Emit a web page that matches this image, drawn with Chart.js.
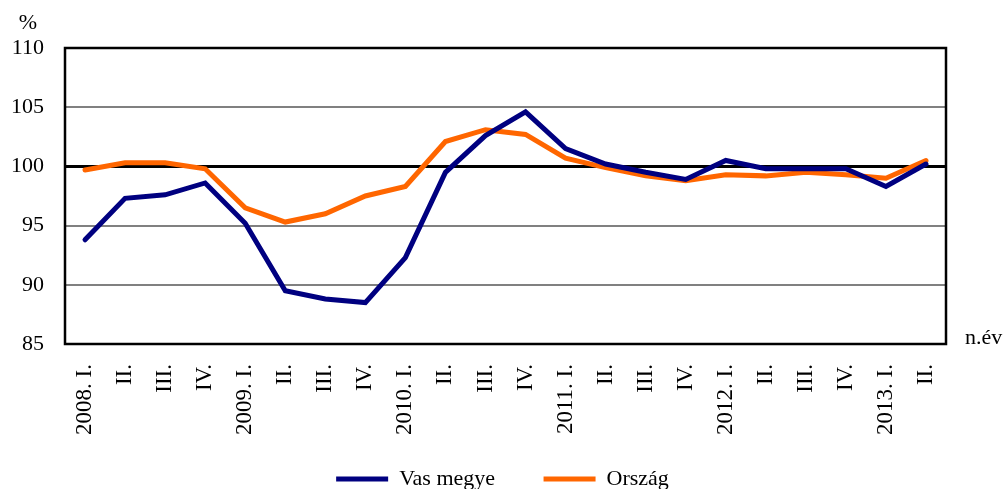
<!DOCTYPE html>
<html>
<head>
<meta charset="utf-8">
<script src="https://cdn.jsdelivr.net/npm/chart.js"></script>
<style>
  html, body { margin: 0; padding: 0; overflow: hidden; background: #fff; }
  #wrap { width: 1005px; height: 500px; }
</style>
</head>
<body>
<div id="wrap"><canvas id="myChart"></canvas></div>
<script>
const labels = ['2008. I.', 'II.', 'III.', 'IV.', '2009. I.', 'II.', 'III.', 'IV.',
                '2010. I.', 'II.', 'III.', 'IV.', '2011. I.', 'II.', 'III.', 'IV.',
                '2012. I.', 'II.', 'III.', 'IV.', '2013. I.', 'II.']
const vasMegye = [93.8, 97.3, 97.6, 98.6, 95.2, 89.5, 88.8, 88.5, 92.3, 99.5, 102.6, 104.6,
                  101.5, 100.2, 99.5, 98.9, 100.5, 99.8, 99.8, 99.8, 98.3, 100.2]
const orszag = [99.7, 100.3, 100.3, 99.8, 96.5, 95.3, 96.0, 97.5, 98.3, 102.1, 103.1, 102.7,
                100.7, 99.9, 99.2, 98.8, 99.3, 99.2, 99.5, 99.3, 99.0, 100.5]
const yTicks = [85, 90, 95, 100, 105, 110]

const FONT = 'Liberation Serif, Times New Roman, serif'

// frame around plot + extra texts
const framePlugin = {
    id: 'frame',
    beforeDatasetsDraw(chart) {
        const a = chart.chartArea
        const ctx = chart.ctx
        ctx.save()
        ctx.strokeStyle = '#000'
        ctx.lineWidth = 2.5
        ctx.strokeRect(a.left, a.top, a.right - a.left, a.bottom - a.top)
        ctx.restore()
    },
    afterDraw(chart) {
        const a = chart.chartArea
        const ctx = chart.ctx
        ctx.save()
        ctx.fillStyle = '#000'
        ctx.font = '22px ' + FONT
        ctx.textAlign = 'center'
        ctx.textBaseline = 'middle'
        ctx.fillText('%', 28, 23)
        ctx.textAlign = 'left'
        ctx.fillText('n.év', a.right + 19, a.bottom - 6)
        ctx.restore()
    }
}

const ctx = document.getElementById('myChart')
const myChart = new Chart(ctx, {
    type: 'line',
    data: {
        labels: labels,
        datasets: [{
            label: 'Vas megye',
            data: vasMegye,
            borderColor: '#000080',
            backgroundColor: '#000080',
            borderWidth: 5,
            borderCapStyle: 'round',
            pointRadius: 0,
            tension: 0
        }, {
            label: 'Ország',
            data: orszag,
            borderColor: '#ff6600',
            backgroundColor: '#ff6600',
            borderWidth: 5,
            borderCapStyle: 'round',
            pointRadius: 0,
            tension: 0
        }]
    },
    options: {
        responsive: true,
        maintainAspectRatio: false,
        animation: false,
        layout: { padding: { top: 48, left: 0, right: 0, bottom: 0 } },
        plugins: {
            tooltip: { enabled: false },
            legend: {
                position: 'bottom',
                labels: {
                    usePointStyle: true,
                    pointStyle: 'line',
                    pointStyleWidth: 52,
                    padding: 10,
                    color: '#000',
                    font: { family: FONT, size: 22 },
                    generateLabels: chart => {
                        const items = Chart.defaults.plugins.legend.labels.generateLabels(chart)
                        // wider gap after the first entry, like the original
                        items[0].text = items[0].text + '       '
                        return items
                    }
                }
            }
        },
        scales: {
            x: {
                offset: true,
                grid: { display: false, drawTicks: false },
                border: { display: false },
                ticks: {
                    autoSkip: false,
                    minRotation: 90,
                    maxRotation: 90,
                    padding: 20,
                    color: '#000',
                    font: { family: FONT, size: 23 }
                },
                afterFit: s => { s.height = 114 }
            },
            y: {
                min: 85,
                max: 110,
                afterBuildTicks: s => { s.ticks = yTicks.map(v => ({ value: v })) },
                grid: {
                    drawTicks: false,
                    color: c => c.tick && c.tick.value === 100 ? '#000' : '#808080',
                    lineWidth: c => c.tick && c.tick.value === 100 ? 3 : 2
                },
                border: { display: false },
                ticks: {
                    padding: 21,
                    color: '#000',
                    font: { family: FONT, size: 22 }
                },
                afterFit: s => { s.width = 65 }
            },
            yr: {
                position: 'right',
                min: 85,
                max: 110,
                grid: { display: false, drawTicks: false },
                border: { display: false },
                ticks: { display: false },
                afterFit: s => { s.width = 59 }
            }
        }
    },
    plugins: [framePlugin]
})
</script>
</body>
</html>
